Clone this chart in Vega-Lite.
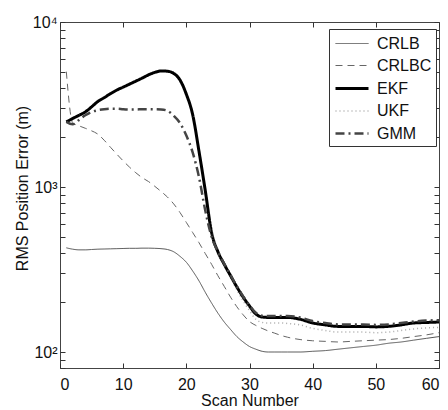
{
  "$schema": "https://vega.github.io/schema/vega-lite/v6.json",
  "width": 379,
  "height": 346,
  "autosize": "none",
  "padding": {"left": 60, "top": 22, "right": 9, "bottom": 42},
  "background": "white",
  "config": {
    "view": {"stroke": "#444", "strokeWidth": 1},
    "font": "Liberation Sans",
    "axis": {
      "labelFont": "Liberation Sans",
      "labelFontSize": 16,
      "labelColor": "#111",
      "titleFont": "Liberation Sans",
      "titleFontSize": 16,
      "titleFontWeight": "normal",
      "titleColor": "#111",
      "ticks": true,
      "tickColor": "#333",
      "tickWidth": 1,
      "tickSize": 5,
      "offset": -5,
      "domain": false,
      "grid": false
    },
    "legend": {
      "orient": "none",
      "legendX": 269,
      "legendY": 7,
      "strokeColor": "#333",
      "fillColor": "white",
      "padding": 4,
      "rowPadding": 3,
      "labelFont": "Liberation Sans",
      "labelFontSize": 16,
      "labelColor": "#111",
      "labelOffset": 21,
      "symbolSize": 400,
      "symbolType": "M-0.9,0H2.4",
      "title": null
    }
  },
  "data": {
    "values": [
      {"scan": 1, "CRLB": 428, "CRLBC": 5000, "EKF": 2480, "UKF": 2470, "GMM": 2480},
      {"scan": 2, "CRLB": 420, "CRLBC": 2450, "EKF": 2600, "UKF": 2590, "GMM": 2400},
      {"scan": 3, "CRLB": 416, "CRLBC": 2350, "EKF": 2720, "UKF": 2710, "GMM": 2550},
      {"scan": 4, "CRLB": 416, "CRLBC": 2270, "EKF": 2850, "UKF": 2840, "GMM": 2720},
      {"scan": 5, "CRLB": 418, "CRLBC": 2190, "EKF": 3060, "UKF": 3050, "GMM": 2850},
      {"scan": 6, "CRLB": 420, "CRLBC": 2090, "EKF": 3300, "UKF": 3290, "GMM": 2920},
      {"scan": 7, "CRLB": 421, "CRLBC": 1920, "EKF": 3480, "UKF": 3470, "GMM": 2960},
      {"scan": 8, "CRLB": 422, "CRLBC": 1740, "EKF": 3680, "UKF": 3670, "GMM": 2980},
      {"scan": 9, "CRLB": 423, "CRLBC": 1580, "EKF": 3870, "UKF": 3860, "GMM": 2980},
      {"scan": 10, "CRLB": 424, "CRLBC": 1440, "EKF": 4030, "UKF": 4020, "GMM": 2960},
      {"scan": 11, "CRLB": 425, "CRLBC": 1320, "EKF": 4200, "UKF": 4190, "GMM": 2950},
      {"scan": 12, "CRLB": 425, "CRLBC": 1220, "EKF": 4380, "UKF": 4370, "GMM": 2950},
      {"scan": 13, "CRLB": 426, "CRLBC": 1140, "EKF": 4570, "UKF": 4560, "GMM": 2960},
      {"scan": 14, "CRLB": 426, "CRLBC": 1080, "EKF": 4780, "UKF": 4770, "GMM": 2960},
      {"scan": 15, "CRLB": 425, "CRLBC": 1010, "EKF": 4950, "UKF": 4940, "GMM": 2960},
      {"scan": 16, "CRLB": 423, "CRLBC": 940, "EKF": 5050, "UKF": 5040, "GMM": 2950},
      {"scan": 17, "CRLB": 418, "CRLBC": 870, "EKF": 5030, "UKF": 5020, "GMM": 2900},
      {"scan": 18, "CRLB": 405, "CRLBC": 790, "EKF": 4880, "UKF": 4870, "GMM": 2700},
      {"scan": 19, "CRLB": 380, "CRLBC": 700, "EKF": 4450, "UKF": 4440, "GMM": 2440},
      {"scan": 20, "CRLB": 350, "CRLBC": 610, "EKF": 3650, "UKF": 3640, "GMM": 2050},
      {"scan": 21, "CRLB": 310, "CRLBC": 530, "EKF": 2750, "UKF": 2740, "GMM": 1620},
      {"scan": 22, "CRLB": 270, "CRLBC": 460, "EKF": 1650, "UKF": 1640, "GMM": 1150},
      {"scan": 23, "CRLB": 230, "CRLBC": 395, "EKF": 950, "UKF": 940, "GMM": 720},
      {"scan": 24, "CRLB": 198, "CRLBC": 340, "EKF": 530, "UKF": 525, "GMM": 500},
      {"scan": 25, "CRLB": 172, "CRLBC": 290, "EKF": 405, "UKF": 400, "GMM": 405},
      {"scan": 26, "CRLB": 152, "CRLBC": 250, "EKF": 340, "UKF": 335, "GMM": 342},
      {"scan": 27, "CRLB": 137, "CRLBC": 215, "EKF": 290, "UKF": 282, "GMM": 292},
      {"scan": 28, "CRLB": 124, "CRLBC": 188, "EKF": 248, "UKF": 238, "GMM": 250},
      {"scan": 29, "CRLB": 115, "CRLBC": 168, "EKF": 215, "UKF": 204, "GMM": 217},
      {"scan": 30, "CRLB": 108, "CRLBC": 153, "EKF": 190, "UKF": 178, "GMM": 192},
      {"scan": 31, "CRLB": 104, "CRLBC": 145, "EKF": 170, "UKF": 158, "GMM": 173},
      {"scan": 32, "CRLB": 101, "CRLBC": 139, "EKF": 163, "UKF": 151, "GMM": 166},
      {"scan": 33, "CRLB": 100, "CRLBC": 134, "EKF": 162, "UKF": 150, "GMM": 165},
      {"scan": 34, "CRLB": 100, "CRLBC": 130, "EKF": 162, "UKF": 150, "GMM": 165},
      {"scan": 35, "CRLB": 100, "CRLBC": 126, "EKF": 162, "UKF": 150, "GMM": 165},
      {"scan": 36, "CRLB": 100, "CRLBC": 123, "EKF": 162, "UKF": 149, "GMM": 165},
      {"scan": 38, "CRLB": 100, "CRLBC": 119, "EKF": 158, "UKF": 146, "GMM": 162},
      {"scan": 40, "CRLB": 101, "CRLBC": 117, "EKF": 150, "UKF": 139, "GMM": 154},
      {"scan": 42, "CRLB": 102, "CRLBC": 116, "EKF": 146, "UKF": 135, "GMM": 150},
      {"scan": 44, "CRLB": 104, "CRLBC": 115, "EKF": 143, "UKF": 132, "GMM": 147},
      {"scan": 46, "CRLB": 106, "CRLBC": 116, "EKF": 143, "UKF": 132, "GMM": 147},
      {"scan": 48, "CRLB": 108, "CRLBC": 117, "EKF": 143, "UKF": 132, "GMM": 147},
      {"scan": 50, "CRLB": 110, "CRLBC": 118, "EKF": 142, "UKF": 131, "GMM": 146},
      {"scan": 52, "CRLB": 113, "CRLBC": 119, "EKF": 143, "UKF": 132, "GMM": 147},
      {"scan": 54, "CRLB": 115, "CRLBC": 121, "EKF": 146, "UKF": 135, "GMM": 150},
      {"scan": 56, "CRLB": 118, "CRLBC": 124, "EKF": 150, "UKF": 138, "GMM": 153},
      {"scan": 58, "CRLB": 121, "CRLBC": 127, "EKF": 151, "UKF": 140, "GMM": 155},
      {"scan": 60, "CRLB": 124, "CRLBC": 131, "EKF": 152, "UKF": 141, "GMM": 156}
    ]
  },
  "transform": [
    {"fold": ["CRLB", "CRLBC", "UKF", "EKF", "GMM"], "as": ["method", "rmse"]}
  ],
  "layer": [
    {
      "mark": {"type": "line", "interpolate": "monotone"},
      "encoding": {
        "x": {
          "field": "scan", "type": "quantitative",
          "scale": {"domain": [0, 60], "nice": false, "zero": false},
          "axis": {"orient": "bottom", "values": [0, 10, 20, 30, 40, 50, 60], "title": "Scan Number", "labelPadding": 8, "titleBaseline": "alphabetic", "titleY": 42}
        },
        "y": {
          "field": "rmse", "type": "quantitative",
          "scale": {"type": "log", "domain": [80, 10000], "nice": false},
          "axis": {
            "orient": "left",
            "values": [80, 90, 100, 200, 300, 400, 500, 600, 700, 800, 900, 1000, 2000, 3000, 4000, 5000, 6000, 7000, 8000, 9000, 10000],
            "labelExpr": "datum.value == 100 ? '10²' : datum.value == 1000 ? '10³' : datum.value == 10000 ? '10⁴' : ''",
            "labelPadding": 3,
            "labelBaseline": "middle",
            "title": "RMS Position Error (m)",
            "titleBaseline": "alphabetic",
            "titleX": -38,
            "titleY": 166
          }
        },
        "color": {
          "field": "method", "type": "nominal",
          "scale": {"domain": ["CRLB", "CRLBC", "EKF", "UKF", "GMM"], "range": ["#555555", "#666666", "#000000", "#aaaaaa", "#444444"]}
        },
        "strokeDash": {
          "field": "method", "type": "nominal",
          "scale": {"type": "ordinal", "domain": ["CRLB", "CRLBC", "EKF", "UKF", "GMM"], "range": [[1, 0], [7, 5], [1, 0], [1, 3], [9, 4, 2, 4]]}
        },
        "strokeWidth": {
          "field": "method", "type": "nominal",
          "scale": {"type": "ordinal", "domain": ["CRLB", "CRLBC", "EKF", "UKF", "GMM"], "range": [1, 1, 3, 1.5, 2.5]}
        }
      }
    },
    {
      "mark": {"type": "point", "opacity": 0},
      "encoding": {
        "x": {
          "field": "scan", "type": "quantitative",
          "axis": {"orient": "top", "values": [0, 10, 20, 30, 40, 50, 60], "labels": false, "title": null}
        },
        "y": {
          "field": "rmse", "type": "quantitative",
          "axis": {"orient": "right", "values": [80, 90, 100, 200, 300, 400, 500, 600, 700, 800, 900, 1000, 2000, 3000, 4000, 5000, 6000, 7000, 8000, 9000, 10000], "labels": false, "title": null}
        }
      }
    }
  ],
  "resolve": {"axis": {"x": "independent", "y": "independent"}}
}
